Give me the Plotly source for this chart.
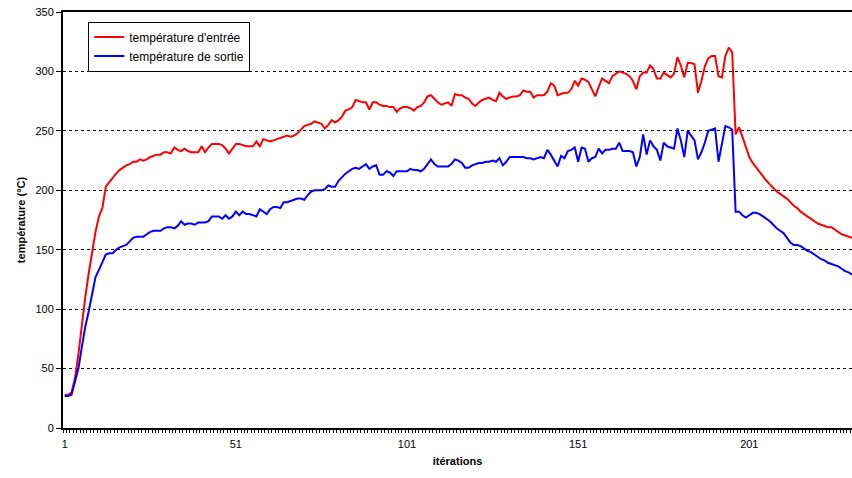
import plotly.graph_objects as go

# Iteration numbers (category axis)
iterations = list(range(1, 232))

# Inlet temperature (°C), one value per iteration
temp_entree = [
    28, 28, 30, 42, 62, 88, 110, 130, 147, 165,
    178, 185, 203, 207, 210, 214, 217, 219, 221, 222,
    224, 224, 226, 225, 226, 228, 229, 230, 230, 232,
    232, 231, 236, 234, 233, 235, 233, 232, 232, 232,
    237, 232, 236, 239, 239, 239, 238, 235, 231, 235,
    239, 239, 238, 237, 237, 237, 241, 237, 243, 242,
    241, 242, 243, 244, 245, 246, 245, 246, 248, 251,
    254, 255, 256, 258, 257, 256, 252, 255, 259, 257,
    259, 262, 267, 268, 270, 276, 275, 274, 274, 268,
    274, 274, 272, 271, 271, 270, 270, 266, 269, 270,
    270, 269, 267, 270, 271, 274, 279, 280, 277, 274,
    272, 273, 274, 271, 281, 280, 280, 278, 277, 273,
    271, 274, 276, 277, 278, 276, 275, 282, 279, 277,
    278, 279, 279, 280, 284, 283, 283, 278, 280, 280,
    280, 283, 290, 288, 280, 281, 282, 282, 285, 292,
    288, 294, 293, 291, 285, 279, 287, 294, 292, 290,
    296, 298, 300, 299, 298, 296, 292, 285, 296, 299,
    299, 305, 302, 294, 294, 299, 297, 295, 298, 312,
    305, 295, 307, 307, 306, 282, 292, 304, 311, 313,
    313, 296, 295, 313, 320, 316, 247, 253, 245, 236,
    228, 223, 219, 215, 211, 208, 205, 202, 199, 197,
    195, 193, 190, 187, 185, 182, 180, 178, 176, 174,
    172, 171, 170, 169, 169, 167, 165, 163, 162, 161,
    160,
]

# Outlet temperature (°C), one value per iteration
temp_sortie = [
    27, 27, 28, 38, 50, 68, 85, 98, 113, 127,
    133, 140, 146, 147, 147, 150, 152, 153, 154, 157,
    160, 161, 161, 161, 163, 165, 166, 166, 166, 168,
    169, 169, 168, 170, 174, 171, 172, 172, 171, 173,
    173, 173, 174, 178, 178, 178, 176, 179, 176, 178,
    182, 179, 182, 180, 180, 179, 178, 184, 182, 180,
    184, 186, 186, 185, 190, 190, 191, 192, 193, 193,
    192, 196, 199, 200, 200, 200, 201, 204, 203, 203,
    208, 211, 214, 216, 218, 219, 218, 220, 222, 218,
    220, 221, 213, 213, 216, 215, 212, 216, 216, 216,
    216, 218, 217, 217, 216, 218, 222, 226, 222, 220,
    220, 220, 220, 222, 226, 225, 223, 219, 219, 221,
    222, 223, 223, 224, 224, 225, 224, 227, 221, 224,
    228, 228, 228, 228, 228, 227, 227, 226, 227, 228,
    227, 234, 230, 225, 220, 229, 227, 233, 234, 236,
    224, 236, 235, 224, 227, 228, 235, 231, 234, 234,
    235, 235, 240, 233, 233, 233, 232, 220, 228, 247,
    230, 242, 237, 234, 225, 240, 237, 236, 235, 252,
    242, 228, 250, 246, 242, 226, 232, 240, 250, 251,
    252, 224, 238, 254, 253, 251, 182, 182, 179, 177,
    179, 181, 181, 180, 178, 176, 174, 171, 168, 166,
    164, 160, 156, 154, 154, 153, 151, 149, 148, 146,
    144, 142, 141, 139, 138, 137, 136, 134, 132, 131,
    129,
]

x_tick_labels = ["1", "51", "101", "151", "201"]
x_tick_positions = [1, 51, 101, 151, 201]

FONT = "Liberation Sans, Arial, sans-serif"

fig = go.Figure()
fig.add_trace(go.Scatter(
    x=iterations, y=temp_entree, mode="lines",
    name="température d'entrée",
    line=dict(color="#FF0000", width=2),
))
fig.add_trace(go.Scatter(
    x=iterations, y=temp_sortie, mode="lines",
    name="température de sortie",
    line=dict(color="#0000FF", width=2),
))

fig.update_layout(
    width=852, height=478,
    margin=dict(l=63, r=0, t=12, b=50),
    paper_bgcolor="white", plot_bgcolor="white",
    font=dict(family=FONT, size=11, color="black"),
    showlegend=True,
    legend=dict(
        x=0.032, y=0.977, xanchor="left", yanchor="top",
        bgcolor="white", bordercolor="black", borderwidth=1,
        font=dict(family=FONT, size=12, color="black"),
        tracegroupgap=0, itemwidth=30, entrywidth=165,
    ),
)

fig.update_xaxes(
    range=[0.5, 231.0],
    tickmode="array", tickvals=x_tick_positions, ticktext=x_tick_labels,
    ticks="outside", ticklen=5, tickcolor="rgba(0,0,0,0)",
    minor=dict(ticks="outside", ticklen=3, tick0=0.5, dtick=1,
               tickcolor="black", tickwidth=1, showgrid=False),
    showline=True, linecolor="black", linewidth=2, mirror=True,
    showgrid=False, zeroline=False,
    tickfont=dict(family=FONT, size=11, color="black"),
    title=dict(text="<b>itérations</b>", standoff=8,
               font=dict(family=FONT, size=11, color="black")),
)

fig.update_yaxes(
    range=[0, 350], tickmode="linear", tick0=0, dtick=50,
    ticks="outside", ticklen=5, tickcolor="black", tickwidth=1,
    showline=True, linecolor="black", linewidth=2, mirror=False,
    showgrid=True, gridcolor="black", gridwidth=1, griddash="3px,3px",
    zeroline=False,
    tickfont=dict(family=FONT, size=11, color="black"),
    title=dict(text="<b>température (°C)</b>", standoff=8,
               font=dict(family=FONT, size=11, color="black")),
)

fig.write_html("out.html")
